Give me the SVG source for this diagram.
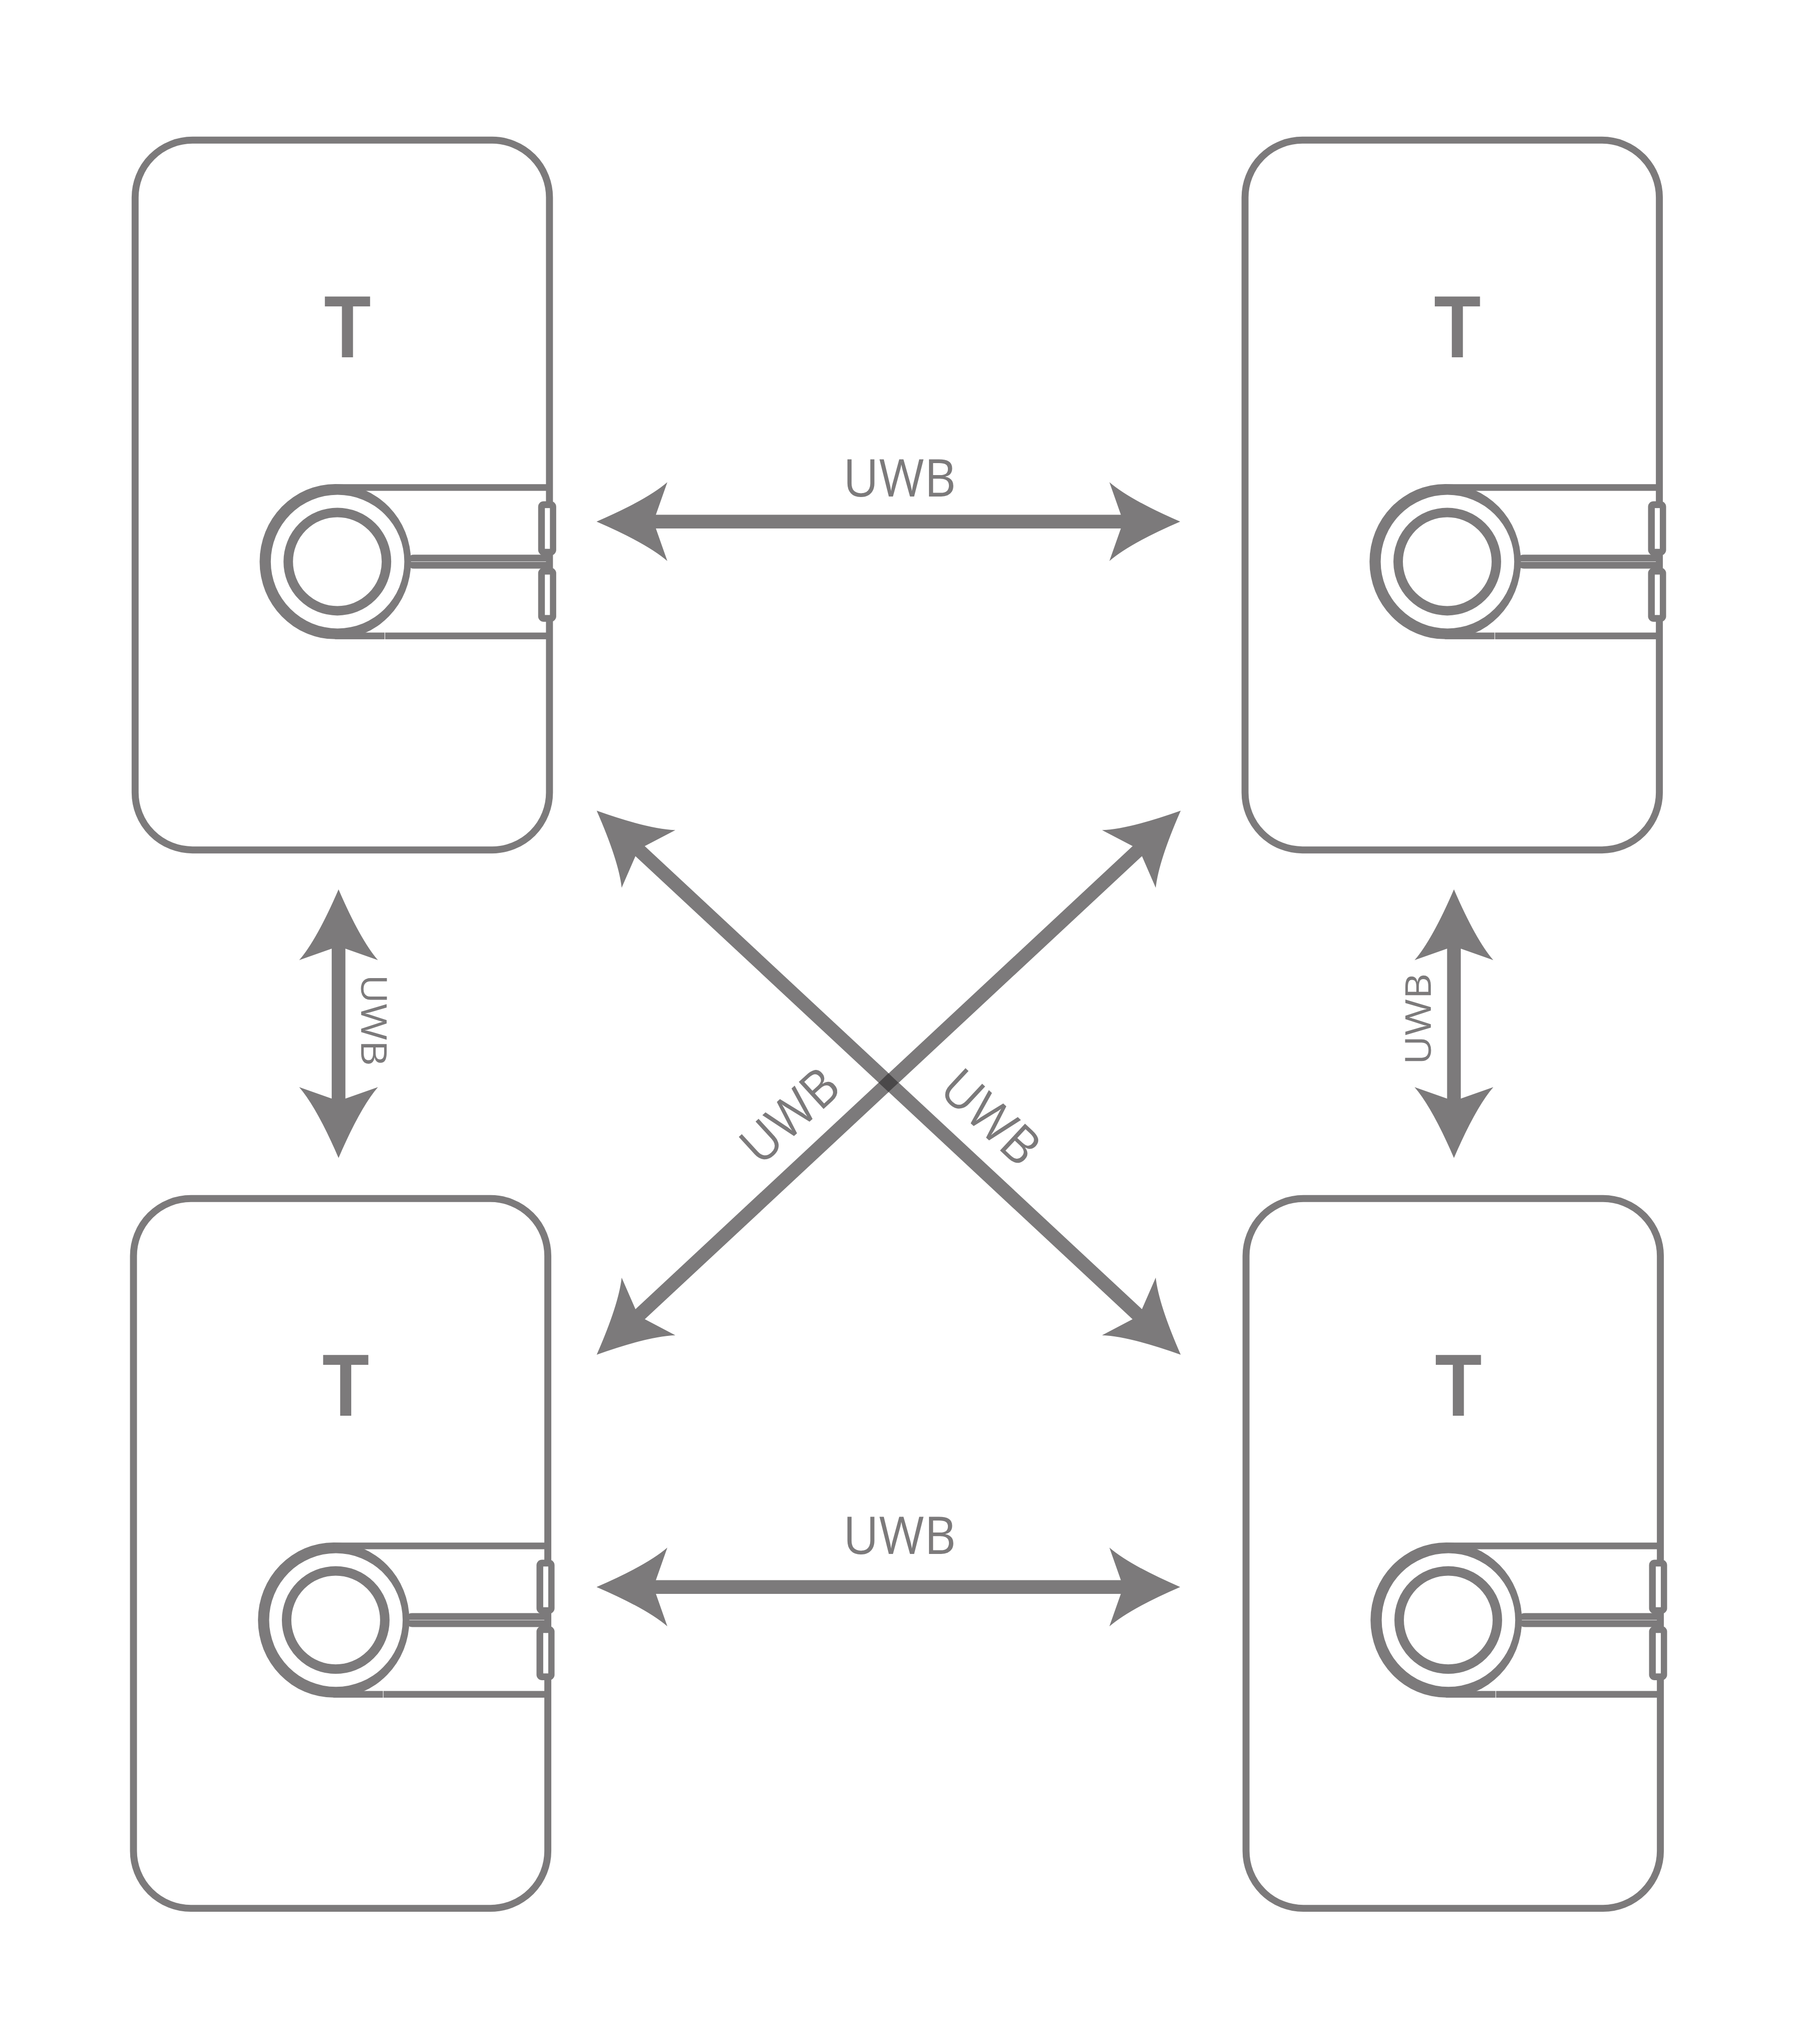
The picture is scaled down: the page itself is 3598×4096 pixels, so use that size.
<svg xmlns="http://www.w3.org/2000/svg" xmlns:xlink="http://www.w3.org/1999/xlink" width="3598" height="4096" viewBox="0 0 3598 4096">
<style>
.g{fill:#7c7a7b}
.w{fill:#fff}
.frame{fill:none;stroke:#7c7a7b;stroke-width:14}
.sh{stroke:#7c7a7b;stroke-width:27.5;fill:none;marker-start:url(#head);marker-end:url(#head)}
.uwb{font-family:"Open Sans","Noto Sans",sans-serif;fill:#7c7a7b;text-anchor:middle}
.t{font-family:"Liberation Sans",Arial,sans-serif;font-weight:700;font-size:177px;fill:#7c7a7b;text-anchor:middle}
</style>
<defs>
<marker id="head" markerUnits="userSpaceOnUse" markerWidth="300" markerHeight="200" viewBox="-150 -100 300 200" refX="0" refY="0" orient="auto-start-reverse" overflow="visible">
<path class="g" d="M60,0Q-41,-43.6 -82,-79L-59,-13.7L-59,13.7L-82,79Q-41,43.6 60,0Z"/>
</marker>
<g id="body">
<rect class="frame" x="271" y="281" width="831" height="1423" rx="115" ry="115"/>
<path class="g" fill-rule="evenodd" d="M672.5,970.5A151.8,155.5 0 0 0 672.5,1281.5A151.8,155.5 0 0 0 672.5,970.5ZM677,992A134,134 0 0 1 677,1260A134,134 0 0 1 677,992Z"/>
<rect class="g" x="672" y="970.7" width="425" height="13.4"/>
<rect class="g" x="672" y="1268.2" width="99.3" height="13.5"/>
<rect class="g" x="772.4" y="1268.2" width="325" height="13.5"/>
<circle cx="676.6" cy="1126" r="98.5" fill="none" stroke="#7c7a7b" stroke-width="19"/>
<path class="g" d="M1097,1112H830Q822,1112 820,1118V1125.6H1097Z"/>
<path class="g" d="M1097,1140H830Q822,1140 820,1134V1126.4H1097Z"/>
<rect class="g" x="1079.3" y="1005" width="36.2" height="108.4" rx="11"/>
<rect class="w" x="1092.8" y="1018.7" width="10.1" height="81.6"/>
<rect class="g" x="1079.3" y="1138.3" width="36.2" height="108.4" rx="11"/>
<rect class="w" x="1092.8" y="1152" width="10.1" height="81"/>
</g>
</defs>
<rect class="w" width="3598" height="4096"/>
<g transform="scale(0.99944 0.99951)">
<g id="node-top-left"><use href="#body"/><text class="t" transform="translate(696.8,716) scale(.87,1)">T</text></g>
<g id="node-top-right" transform="translate(2226,0)"><use href="#body"/><text class="t" transform="translate(696.8,716) scale(.87,1)">T</text></g>
<g id="node-bottom-left" transform="translate(-3.3,2122)"><use href="#body"/><text class="t" transform="translate(696.8,716) scale(.87,1)">T</text></g>
<g id="node-bottom-right" transform="translate(2228,2122)"><use href="#body"/><text class="t" transform="translate(696.8,716) scale(.87,1)">T</text></g>
<g id="connectors">
<line class="sh" x1="1256.4" y1="1045.7" x2="2307" y2="1045.7"/>
<line class="sh" x1="1256.4" y1="3181.7" x2="2307" y2="3181.7"/>
<line class="sh" x1="679" y1="1843" x2="679" y2="2261.6"/>
<line class="sh" x1="2916" y1="1843" x2="2916" y2="2261.6"/>
<line class="sh" x1="1240.6" y1="1666.2" x2="2324.1" y2="2675.1"/>
<line class="sh" x1="2324.1" y1="1666.2" x2="1240.6" y2="2675.1"/>
<polygon fill="#4a4849" points="1782,2151.7 1802,2170.7 1782,2189.3 1762.2,2170.7"/>
</g>
<g id="labels">
<text class="uwb" font-size="105" transform="translate(1804,995) scale(.94,1)">UWB</text>
<text class="uwb" font-size="105" transform="translate(1804,3116) scale(.94,1)">UWB</text>
<text class="uwb" font-size="72" transform="translate(724,2045.4) rotate(90) scale(1.108,1)">UWB</text>
<text class="uwb" font-size="72" transform="translate(2870,2043) rotate(-90) scale(1.108,1)">UWB</text>
<text class="uwb" font-size="103" transform="translate(1608.2,2263.2) rotate(-42.5) scale(.955,1)">UWB</text>
<text class="uwb" font-size="103" transform="translate(1962.4,2266.5) rotate(43) scale(.955,1)">UWB</text>
</g>
</g>
</svg>
